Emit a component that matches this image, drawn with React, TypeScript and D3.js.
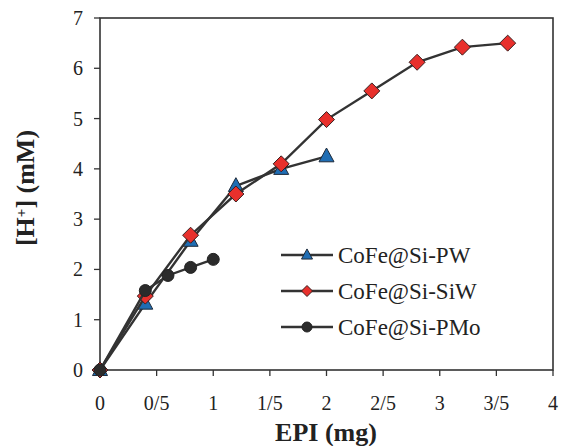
import React from 'react';
import * as d3 from 'd3';

// data
const pwX = [0, 0.4, 0.8, 1.2, 1.6, 2.0];
const pwY = [0, 1.32, 2.57, 3.66, 4.0, 4.25];
const siwX = [0, 0.4, 0.8, 1.2, 1.6, 2.0, 2.4, 2.8, 3.2, 3.6];
const siwY = [0, 1.47, 2.68, 3.5, 4.1, 4.98, 5.55, 6.12, 6.42, 6.5];
const pmoX = [0, 0.4, 0.6, 0.8, 1.0];
const pmoY = [0, 1.58, 1.88, 2.04, 2.2];

const seriesNames = ['CoFe@Si-PW', 'CoFe@Si-SiW', 'CoFe@Si-PMo'];
const xTicks = [0, 0.5, 1, 1.5, 2, 2.5, 3, 3.5, 4];
const xTickLabels = ['0', '0/5', '1', '1/5', '2', '2/5', '3', '3/5', '4'];
const yTicks = [0, 1, 2, 3, 4, 5, 6, 7];

const W = 561;
const H = 446;
const margin = { top: 18, right: 8, bottom: 76, left: 100 };
const font = '"Liberation Serif", "Times New Roman", serif';
const ink = '#333333';

const x = d3.scaleLinear().domain([0, 4]).range([margin.left, W - margin.right]);
const y = d3.scaleLinear().domain([0, 7]).range([H - margin.bottom, margin.top]);

const line = d3
  .line<[number, number]>()
  .x((d) => x(d[0]))
  .y((d) => y(d[1]));

const zip = (xs: number[], ys: number[]): [number, number][] => xs.map((v, i) => [v, ys[i]]);

const series = [
  { name: seriesNames[0], pts: zip(pwX, pwY), shape: 'triangle', fill: '#1f6db3' },
  { name: seriesNames[1], pts: zip(siwX, siwY), shape: 'diamond', fill: '#e8302c' },
  { name: seriesNames[2], pts: zip(pmoX, pmoY), shape: 'circle', fill: '#2b2b2b' },
];

const Marker = ({ shape, fill, cx, cy, s }: { shape: string; fill: string; cx: number; cy: number; s: number }) => {
  if (shape === 'triangle') {
    const h = s * 0.92;
    const pts = `${cx},${cy - h * 0.6} ${cx - s / 2},${cy + h * 0.4} ${cx + s / 2},${cy + h * 0.4}`;
    return <polygon points={pts} fill={fill} stroke="#1d2a3a" strokeWidth={1} />;
  }
  if (shape === 'diamond') {
    const r = s / 2;
    const pts = `${cx},${cy - r} ${cx + r},${cy} ${cx},${cy + r} ${cx - r},${cy}`;
    return <polygon points={pts} fill={fill} stroke="#3a1f1f" strokeWidth={1} />;
  }
  return <circle cx={cx} cy={cy} r={s / 2} fill={fill} stroke="#222" strokeWidth={1} />;
};

const App = () => {
  const x0 = margin.left;
  const x1 = W - margin.right;
  const y0 = H - margin.bottom;
  const y1 = margin.top;
  const sizes = [15, 16, 12];
  const legendSizes = [11, 11, 10];

  return (
    <svg width={W} height={H} style={{ position: 'absolute', left: 0, top: 0 }} fontFamily={font}>
      <rect width={W} height={H} fill="#fff" />
      {/* frame */}
      <rect x={x0} y={y1} width={x1 - x0} height={y0 - y1} fill="none" stroke={ink} strokeWidth={1.6} />

      {/* x ticks */}
      {xTicks.map((t, i) => (
        <g key={'x' + i}>
          <line x1={x(t)} x2={x(t)} y1={y0} y2={y0 + 6} stroke={ink} strokeWidth={1.3} />
          <text x={x(t)} y={410} fontSize={20} textAnchor="middle" fill="#222">
            {xTickLabels[i]}
          </text>
        </g>
      ))}

      {/* y ticks */}
      {yTicks.map((t) => (
        <g key={'y' + t}>
          <line x1={x0 - 6} x2={x0} y1={y(t)} y2={y(t)} stroke={ink} strokeWidth={1.3} />
          <text x={83} y={y(t) + 7} fontSize={20} textAnchor="end" fill="#222">
            {t}
          </text>
        </g>
      ))}

      {/* axis titles */}
      <text x={326} y={441} fontSize={26} fontWeight="bold" textAnchor="middle" fill="#222">
        EPI (mg)
      </text>
      <text
        transform={`translate(34, 188) rotate(-90)`}
        fontSize={26}
        fontWeight="bold"
        textAnchor="middle"
        fill="#222"
      >
        [H<tspan baselineShift="super" fontSize={15}>+</tspan>] (mM)
      </text>

      {/* series */}
      {series.map((s, si) => (
        <g key={s.name}>
          <path d={line(s.pts) || ''} fill="none" stroke={ink} strokeWidth={2.4} />
          {s.pts.map((p, i) => (
            <Marker key={i} shape={s.shape} fill={s.fill} cx={x(p[0])} cy={y(p[1])} s={sizes[si]} />
          ))}
        </g>
      ))}

      {/* legend */}
      {series.map((s, i) => {
        const ly = 255 + i * 36;
        return (
          <g key={'leg' + i}>
            <line x1={281} x2={333} y1={ly} y2={ly} stroke={ink} strokeWidth={2.4} />
            <Marker shape={s.shape} fill={s.fill} cx={307} cy={ly} s={legendSizes[i]} />
            <text x={338} y={ly + 8} fontSize={23} fill="#222">
              {s.name}
            </text>
          </g>
        );
      })}
    </svg>
  );
};

export default App;
